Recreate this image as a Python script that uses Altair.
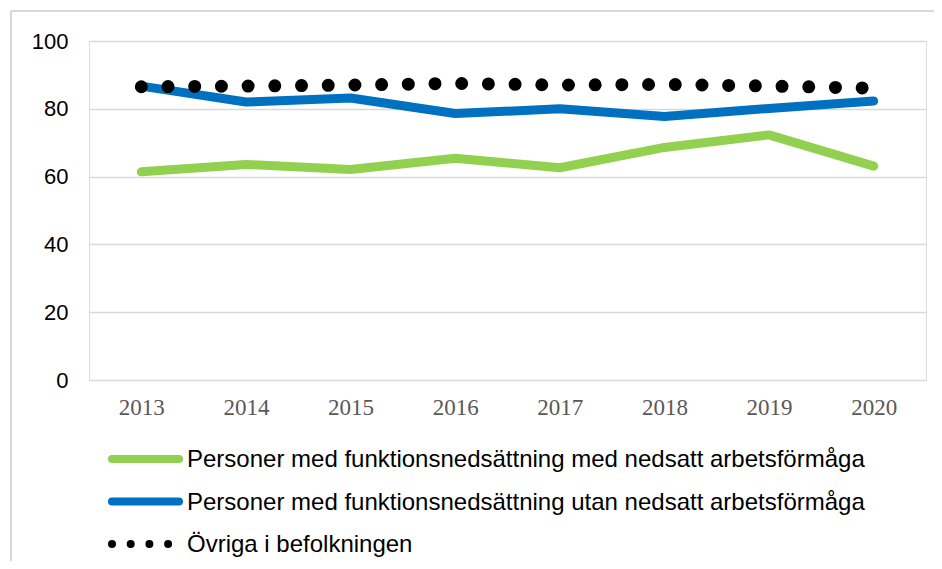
import altair as alt
import pandas as pd

years = ["2013", "2014", "2015", "2016", "2017", "2018", "2019", "2020"]
series_names = [
    "Personer med funktionsnedsättning med nedsatt arbetsförmåga",
    "Personer med funktionsnedsättning utan nedsatt arbetsförmåga",
    "Övriga i befolkningen",
]
green_vals = [61.4, 63.6, 62.1, 65.4, 62.6, 68.6, 72.3, 63.1]
blue_vals = [86.7, 82.0, 83.2, 78.6, 80.0, 77.7, 80.1, 82.3]
black_vals = [86.5, 86.7, 87.0, 87.5, 87.0, 87.2, 86.7, 86.1]

colors = ["#92D050", "#0070C0", "#000000"]

rows = []
for name, vals in zip(series_names, [green_vals, blue_vals, black_vals]):
    for yr, v in zip(years, vals):
        rows.append({"year": yr, "value": v, "series": name})
df = pd.DataFrame(rows)
legend_df = pd.DataFrame({"series": series_names})

x_enc = alt.X(
    "year:N",
    sort=years,
    scale=alt.Scale(type="point", padding=0.5),
    axis=alt.Axis(
        title=None, labelAngle=0, domain=False, ticks=False, grid=False,
        labelFont="Liberation Serif", labelFontSize=23, labelColor="#595959",
        labelPadding=16,
    ),
)
y_enc = alt.Y(
    "value:Q",
    scale=alt.Scale(domain=[0, 100], nice=False),
    axis=alt.Axis(
        title=None, values=[0, 20, 40, 60, 80, 100], domain=False, ticks=False,
        grid=True, gridColor="#d9d9d9", gridWidth=1.5,
        labelFont="Liberation Sans", labelFontSize=22, labelColor="#000000",
        labelPadding=21,
    ),
)

base = alt.Chart(df).encode(x=x_enc, y=y_enc)
green_line = base.transform_filter(alt.datum.series == series_names[0]).mark_line(
    color=colors[0], strokeWidth=9, strokeCap="round", strokeJoin="round")
blue_line = base.transform_filter(alt.datum.series == series_names[1]).mark_line(
    color=colors[1], strokeWidth=9, strokeCap="round", strokeJoin="round")
black_line = base.transform_filter(alt.datum.series == series_names[2]).mark_line(
    color=colors[2], strokeWidth=13, strokeCap="round", strokeDash=[0, 26.7])

main = alt.layer(green_line, blue_line, black_line)

ly = alt.Y("series:N", scale=alt.Scale(type="point", domain=series_names,
                                        range=[418, 503], padding=0), axis=None)
lbase = alt.Chart(legend_df).encode(y=ly)
leg_solid = lbase.transform_filter(alt.datum.series != series_names[2]).mark_rule(
    strokeWidth=8, strokeCap="round").encode(
    x=alt.value(23), x2=alt.value(90),
    color=alt.Color("series:N", scale=alt.Scale(domain=series_names, range=colors), legend=None),
)
leg_dots = lbase.transform_filter(alt.datum.series == series_names[2]).mark_rule(
    strokeWidth=8, strokeCap="round", strokeDash=[0, 18.7], color="#000000").encode(
    x=alt.value(23), x2=alt.value(79.2),
)
leg_text = lbase.mark_text(align="left", baseline="middle", fontSize=24,
                           font="Liberation Sans", color="#000000", dy=1).encode(
    x=alt.value(98), text="series:N")
legend = alt.layer(leg_solid, leg_dots, leg_text)

frame_left = alt.Chart(legend_df.head(1)).mark_rule(color="#d9d9d9", strokeWidth=2).encode(
    x=alt.value(-78), y=alt.value(-30), y2=alt.value(530))
frame_top = alt.Chart(legend_df.head(1)).mark_rule(color="#d9d9d9", strokeWidth=2).encode(
    x=alt.value(-78), x2=alt.value(860), y=alt.value(-30))
frame = alt.layer(frame_left, frame_top)

chart = alt.layer(frame, main, legend).resolve_scale(y="independent").properties(
    width=837, height=339,
    autosize=alt.AutoSizeParams(type="none"),
    padding={"left": 81, "top": 33, "right": 8, "bottom": 181},
).configure_view(stroke=None).configure(background="white")

chart.save("out.html", embed_options={"renderer": "svg", "actions": False})
